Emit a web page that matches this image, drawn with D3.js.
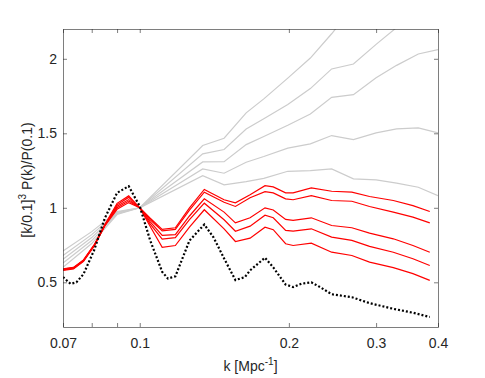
<!DOCTYPE html>
<html>
<head>
	<meta charset="utf-8">
	<script src="https://d3js.org/d3.v7.min.js"></script>
	<style>
		body { margin: 0; background: white; }
		text { font-family: 'Liberation Sans', Arial, sans-serif; fill: #262626; }
	</style>
</head>
<body>
<div id='plot'></div>
<script>
	// gray reference curves
	var kGray = [0.07, 0.08, 0.09, 0.1, 0.134, 0.148, 0.164, 0.178, 0.199, 0.221, 0.244, 0.27, 0.30, 0.33, 0.365, 0.40]
	var gray1 = [0.60, 0.76, 0.955, 1, 1.418, 1.467, 1.637, 1.731, 1.87, 2.005, 2.168, 2.35, 2.55, 2.72, 2.9, 3.1]
	var gray2 = [0.63, 0.78, 0.96, 1, 1.362, 1.391, 1.529, 1.597, 1.694, 1.80, 1.932, 1.965, 2.097, 2.21, 2.38, 2.55]
	var gray3 = [0.655, 0.80, 0.965, 1, 1.308, 1.310, 1.424, 1.478, 1.554, 1.63, 1.741, 1.759, 1.873, 1.956, 2.032, 2.061]
	var gray4 = [0.68, 0.82, 0.97, 1, 1.261, 1.232, 1.306, 1.344, 1.40, 1.429, 1.485, 1.458, 1.503, 1.53, 1.536, 1.503]
	var gray5 = [0.71, 0.84, 0.975, 1, 1.216, 1.154, 1.176, 1.198, 1.245, 1.25, 1.261, 1.194, 1.188, 1.165, 1.138, 1.082]

	// red curves
	var kRed = [0.07, 0.0735, 0.077, 0.081, 0.085, 0.09, 0.095, 0.1, 0.105, 0.111, 0.118, 0.126, 0.135, 0.148, 0.156, 0.167, 0.179, 0.186, 0.197, 0.204, 0.222, 0.244, 0.268, 0.291, 0.325, 0.356, 0.385]
	var red1 = [0.59, 0.60, 0.65, 0.754, 0.886, 1.03, 1.08, 1.0, 0.93, 0.855, 0.866, 1.0, 1.123, 1.054, 1.033, 1.087, 1.148, 1.14, 1.10, 1.10, 1.134, 1.111, 1.105, 1.076, 1.049, 1.015, 0.975]
	var red2 = [0.588, 0.598, 0.648, 0.752, 0.884, 1.02, 1.07, 1.0, 0.92, 0.845, 0.855, 0.985, 1.105, 1.037, 1.009, 1.067, 1.108, 1.10, 1.06, 1.054, 1.082, 1.049, 1.044, 1.009, 0.971, 0.937, 0.899]
	var red3 = [0.585, 0.595, 0.645, 0.75, 0.882, 1.01, 1.055, 1.0, 0.905, 0.815, 0.82, 0.945, 1.06, 0.971, 0.899, 0.933, 1.0, 0.985, 0.922, 0.915, 0.933, 0.881, 0.866, 0.83, 0.792, 0.747, 0.702]
	var red4 = [0.583, 0.593, 0.643, 0.748, 0.88, 1.0, 1.045, 1.0, 0.89, 0.79, 0.80, 0.92, 1.031, 0.92, 0.843, 0.877, 0.95, 0.933, 0.848, 0.843, 0.859, 0.803, 0.781, 0.741, 0.702, 0.658, 0.613]
	var red5 = [0.58, 0.59, 0.64, 0.746, 0.878, 0.99, 1.035, 1.0, 0.875, 0.735, 0.747, 0.87, 0.987, 0.859, 0.774, 0.796, 0.87, 0.853, 0.759, 0.747, 0.763, 0.702, 0.68, 0.635, 0.598, 0.558, 0.513]

	// black dotted curve
	var kBlack = [0.07, 0.0725, 0.0745, 0.077, 0.081, 0.085, 0.09, 0.095, 0.1, 0.105, 0.111, 0.114, 0.118, 0.126, 0.135, 0.141, 0.148, 0.156, 0.163, 0.167, 0.179, 0.186, 0.197, 0.204, 0.212, 0.222, 0.232, 0.244, 0.268, 0.291, 0.325, 0.356, 0.385]
	var black = [0.535, 0.49, 0.50, 0.555, 0.72, 0.93, 1.10, 1.145, 1.01, 0.78, 0.57, 0.525, 0.54, 0.78, 0.888, 0.80, 0.66, 0.515, 0.535, 0.58, 0.665, 0.60, 0.485, 0.468, 0.49, 0.50, 0.465, 0.42, 0.40, 0.36, 0.322, 0.296, 0.267]

	var xTicks = [0.07, 0.08, 0.09, 0.1, 0.2, 0.3, 0.4]
	var xLabels = [0.07, 0.1, 0.2, 0.3, 0.4]
	var yTicks = [0.5, 1, 1.5, 2]

	var margin = {top: 29, bottom: 51, left: 63, right: 47}
	var width = 485 - margin.left - margin.right
	var height = 378 - margin.top - margin.bottom

	var svg = d3.select('#plot').append('svg')
		.attr('width', 485)
		.attr('height', 378)
		.append('g')
		.attr('transform', 'translate(' + margin.left + ',' + margin.top + ')')

	var xScale = d3.scaleLog().domain([0.07, 0.4]).range([0, width])
	var yScale = d3.scaleLinear().domain([0.2, 2.2]).range([height, 0])

	svg.append('clipPath').attr('id', 'clip')
		.append('rect').attr('width', width).attr('height', height)

	function pairs(ks, vs) {
		return ks.map(function(k, i) { return [k, vs[i]] })
	}

	var line = d3.line()
		.x(function(d) { return xScale(d[0]) })
		.y(function(d) { return yScale(d[1]) })

	var lines = svg.append('g').attr('clip-path', 'url(#clip)')

	lines.selectAll('.gray')
		.data([gray1, gray2, gray3, gray4, gray5])
		.enter().append('path')
		.attr('class', 'gray')
		.attr('d', function(d) { return line(pairs(kGray, d)) })
		.attr('fill', 'none')
		.attr('stroke', '#cccccc')
		.attr('stroke-width', 1.2)

	lines.selectAll('.red')
		.data([red1, red2, red3, red4, red5])
		.enter().append('path')
		.attr('class', 'red')
		.attr('d', function(d) { return line(pairs(kRed, d)) })
		.attr('fill', 'none')
		.attr('stroke', '#ff0000')
		.attr('stroke-width', 1.2)

	lines.append('path')
		.attr('d', line(pairs(kBlack, black)))
		.attr('fill', 'none')
		.attr('stroke', '#000')
		.attr('stroke-width', 2.2)
		.attr('stroke-dasharray', '2,2')

	// axes, ticks pointing in (box on)
	var fmtX = function(d) { return xLabels.indexOf(d) >= 0 ? d3.format('')(d) : '' }

	var xb = svg.append('g').attr('transform', 'translate(0,' + height + ')')
		.call(d3.axisBottom(xScale).tickValues(xTicks).tickFormat(fmtX).tickSize(-4).tickSizeOuter(0).tickPadding(11))
	var xt = svg.append('g')
		.call(d3.axisTop(xScale).tickValues(xTicks).tickFormat('').tickSize(-4).tickSizeOuter(0))
	var yl = svg.append('g')
		.call(d3.axisLeft(yScale).tickValues(yTicks).tickFormat(d3.format('')).tickSize(-4).tickSizeOuter(0).tickPadding(6))
	var yr = svg.append('g').attr('transform', 'translate(' + width + ',0)')
		.call(d3.axisRight(yScale).tickValues(yTicks).tickFormat('').tickSize(-4).tickSizeOuter(0))

	svg.selectAll('.domain, .tick line').attr('stroke', '#262626').attr('stroke-width', 0.6)
	svg.selectAll('.tick text').attr('font-size', 14).attr('fill', '#262626')
		.style('font-family', "'Liberation Sans', Arial, sans-serif")

	// axis labels
	var xl = svg.append('text')
		.attr('x', width / 2)
		.attr('y', 342)
		.attr('text-anchor', 'middle')
		.attr('font-size', 14)
	xl.append('tspan').text('k [Mpc')
	xl.append('tspan').attr('font-size', 10).attr('dy', -6).text('-1')
	xl.append('tspan').attr('dy', 6).text(']')

	var ylab = svg.append('text')
		.attr('transform', 'translate(-31,' + (height / 2 + 2) + ') rotate(-90)')
		.attr('text-anchor', 'middle')
		.attr('font-size', 14)
	ylab.append('tspan').text('[k/0.1]')
	ylab.append('tspan').attr('font-size', 10).attr('dy', -6).text('3')
	ylab.append('tspan').attr('dy', 6).text(' P(k)/P(0.1)')
</script>
</body>
</html>
